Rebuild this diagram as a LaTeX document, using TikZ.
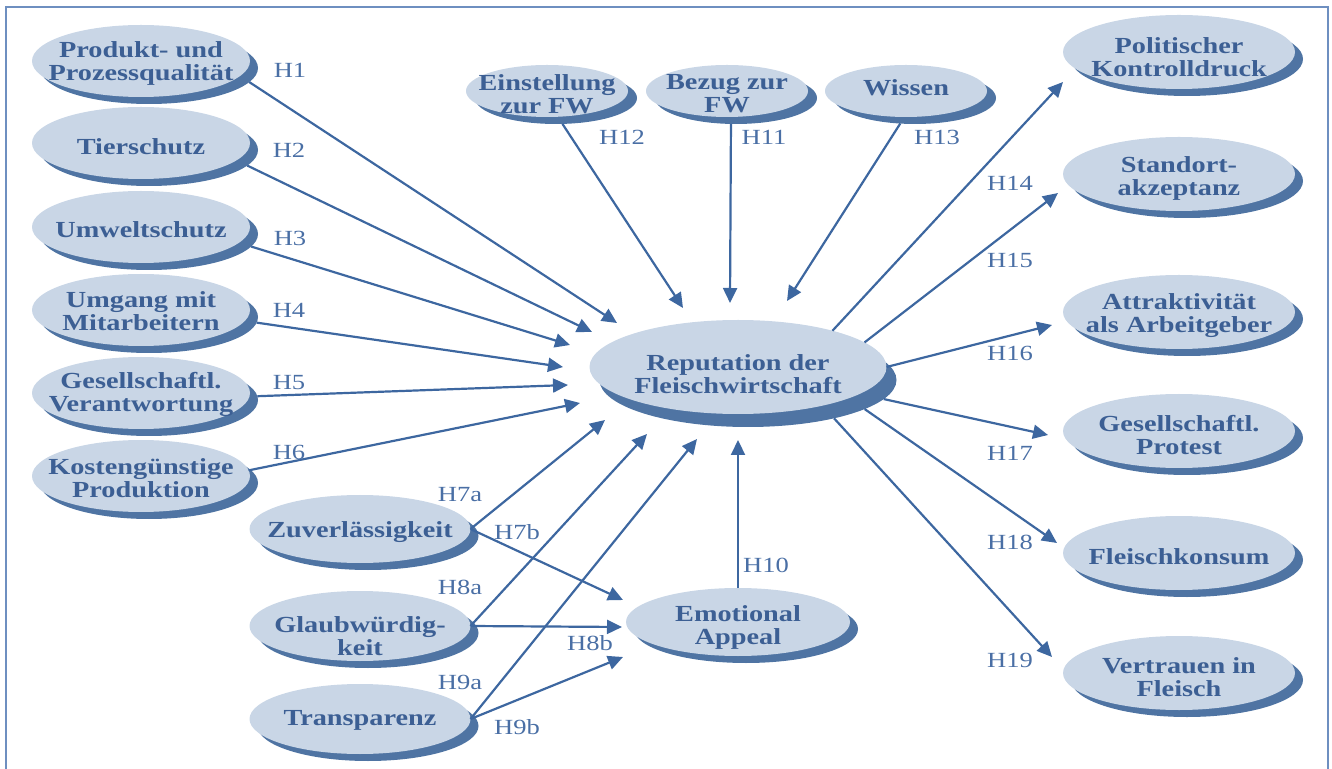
\documentclass[tikz,border=0pt]{standalone}
\usepackage{fontspec}
\setmainfont{Liberation Serif}[FakeStretch=1.23]
\usetikzlibrary{arrows.meta,calc,shapes.geometric}
\definecolor{facec}{HTML}{C9D6E6}
\definecolor{shadc}{HTML}{4F74A3}
\definecolor{txtc}{HTML}{3C5F94}
\definecolor{linec}{HTML}{3D67A0}
\definecolor{lblc}{HTML}{4A6FA5}
\definecolor{framec}{HTML}{6E8FC0}
\tikzset{
  face/.style={ellipse, fill=facec, inner sep=0pt, outer sep=0pt},
  shad/.style={ellipse, fill=shadc, inner sep=0pt, outer sep=0pt},
  ovtext/.style={align=center, text=txtc, font=\fontsize{11.5}{11.5}\selectfont\bfseries, inner sep=0pt},
  hlabel/.style={text=lblc, font=\fontsize{10.8}{12}\selectfont, inner sep=0pt},
  conn/.style={draw=linec, line width=1.1pt, -{Triangle[length=7.5pt,width=7pt]}},
}
% #1 name, #2 x, #3 y, #4 width pt, #5 height pt, #6 shadow offset, #7 text y, #8 text
\newcommand\ovalnd[8]{%
  \node[shad, minimum width=#4pt, minimum height=#5pt] (#1s) at ($(#2,#3)+#6$) {};
  \node[face, minimum width=#4pt, minimum height=#5pt] (#1) at (#2,#3) {};
  \node[ovtext] (#1t) at (#2,#7) {#8};
}
\begin{document}
\begin{tikzpicture}[x=0.5pt,y=-0.5pt]
\useasboundingbox (0,0) rectangle (1332,769);
\draw[framec, line width=1pt] (6,7) rectangle (1328,800);

% left column
\ovalnd{n1}{141}{61}{109}{36}{(8,7)}{63}{Produkt- und\\Prozessqualität}
\ovalnd{n2}{141}{143}{109}{36}{(8,7)}{147}{Tierschutz}
\ovalnd{n3}{141}{227}{109}{36}{(8,7)}{230}{Umweltschutz}
\ovalnd{n4}{141}{310}{109}{36}{(8,7)}{311}{Umgang mit\\Mitarbeitern}
\ovalnd{n5}{141}{393}{109}{36}{(8,7)}{394}{Gesellschaftl.\\Verantwortung}
\ovalnd{n6}{141}{476}{109}{36}{(8,7)}{478}{Kostengünstige\\Produktion}
% top row
\ovalnd{e1}{547}{91}{81}{26}{(9,7)}{94}{Einstellung\\zur FW}
\ovalnd{e2}{727}{91}{81}{26}{(9,7)}{94}{Bezug zur\\FW}
\ovalnd{e3}{906}{91}{81}{26}{(9,7)}{88}{Wissen}
% centre
\ovalnd{rep}{738}{367}{148.5}{47}{(10,13)}{374}{Reputation der\\Fleischwirtschaft}
% bottom
\ovalnd{z}{360}{529}{110.5}{34}{(8,7)}{532}{Zuverlässigkeit}
\ovalnd{g}{360}{626}{110.5}{35}{(8,7)}{636}{Glaubwürdig-\\keit}
\ovalnd{tr}{360}{719}{110.5}{35}{(8,7)}{720}{Transparenz}
\ovalnd{em}{738}{622}{112}{34}{(8,7)}{627}{Emotional\\Appeal}
% right column
\ovalnd{r1}{1179}{52}{116}{37}{(8,7)}{57}{Politischer\\Kontrolldruck}
\ovalnd{r2}{1179}{174}{116}{37}{(8,7)}{178}{Standort-\\akzeptanz}
\ovalnd{r3}{1179}{312}{116}{37}{(8,7)}{316}{Attraktivität\\als Arbeitgeber}
\ovalnd{r4}{1179}{431}{116}{37}{(8,7)}{435}{Gesellschaftl.\\Protest}
\ovalnd{r5}{1179}{553}{116}{37}{(8,7)}{557}{Fleischkonsum}
\ovalnd{r6}{1179}{673}{116}{37}{(8,7)}{677}{Vertrauen in\\Fleisch}

% arrow tips (free ends)
\coordinate (t1) at (617,323);
\coordinate (t2) at (592,332);
\coordinate (t3) at (570,345);
\coordinate (t4) at (563,367);
\coordinate (t5) at (568,385);
\coordinate (t6) at (580,403);
\coordinate (t7a) at (605,420);
\coordinate (t8a) at (647,434);
\coordinate (t9a) at (697,439);
\coordinate (t10) at (738,440);
\coordinate (t7b) at (623,600);
\coordinate (t8b) at (622,627);
\coordinate (t9b) at (623,657);
\coordinate (t12) at (683,308);
\coordinate (t11) at (730,303);
\coordinate (t13) at (787,301);
\coordinate (t14) at (1063,82);
\coordinate (t15) at (1058,193);
\coordinate (t16) at (1052,325);
\coordinate (t17) at (1048,435);
\coordinate (t18) at (1057,543);
\coordinate (t19) at (1052,657);

% connectors
\draw[conn] (n1s.-8) -- (t1);
\draw[conn] (n2s.-9) -- (t2);
\draw[conn] (n3s.-7) -- (t3);
\draw[conn] (n4s.-3) -- (t4);
\draw[conn] (n5s.2) -- (t5);
\draw[conn] (n6.3) -- (t6);
\draw[conn] (z.east) -- (t7a);
\draw[conn] (z.east) -- (t7b);
\draw[conn] (g.east) -- (t8a);
\draw[conn] (g.east) -- (t8b);
\draw[conn] (tr.east) -- (t9a);
\draw[conn] (tr.east) -- (t9b);
\draw[conn] (em.north) -- (t10);
\draw[conn] (e1s.-76) -- (t12);
\draw[conn] (e2s.-101) -- (t11);
\draw[conn] (e3s.-120) -- (t13);
\draw[conn] (rep.21) -- (t14);
\draw[conn] (rep.11) -- (t15);
\draw[conn] (rep.0) -- (t16);
\draw[conn] (reps.-8.5) -- (t17);
\draw[conn] (reps.-14) -- (t18);
\draw[conn] (reps.-24) -- (t19);

% labels
\node[hlabel] (h1) at (290,70) {H1};
\node[hlabel] (h2) at (289,150) {H2};
\node[hlabel] (h3) at (290,238) {H3};
\node[hlabel] (h4) at (289,310) {H4};
\node[hlabel] (h5) at (289,383) {H5};
\node[hlabel] (h6) at (289,452) {H6};
\node[hlabel] (h7a) at (460,495) {H7a};
\node[hlabel] (h7b) at (517,532) {H7b};
\node[hlabel] (h8a) at (460,587) {H8a};
\node[hlabel] (h8b) at (590,643) {H8b};
\node[hlabel] (h9a) at (460,682) {H9a};
\node[hlabel] (h9b) at (517,727) {H9b};
\node[hlabel] (h10) at (766,565) {H10};
\node[hlabel] (h12) at (622,137) {H12};
\node[hlabel] (h11) at (764,137) {H11};
\node[hlabel] (h13) at (937,137) {H13};
\node[hlabel] (h14) at (1010,183) {H14};
\node[hlabel] (h15) at (1010,260) {H15};
\node[hlabel] (h16) at (1010,353) {H16};
\node[hlabel] (h17) at (1010,453) {H17};
\node[hlabel] (h18) at (1010,542) {H18};
\node[hlabel] (h19) at (1010,660) {H19};
\end{tikzpicture}
\end{document}
